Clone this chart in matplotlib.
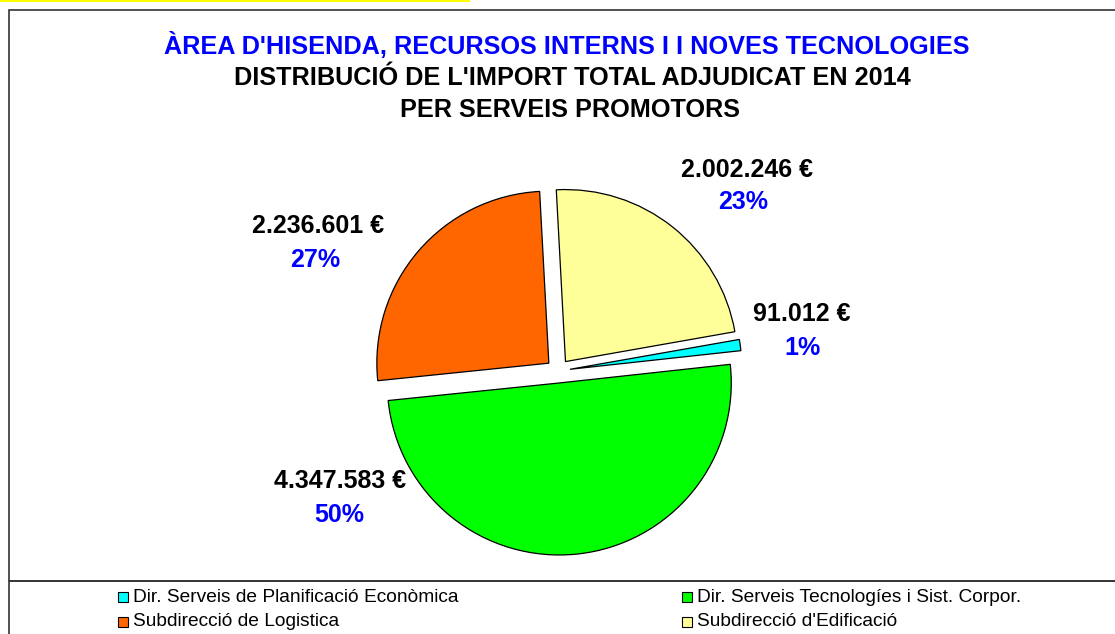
import matplotlib
matplotlib.use("Agg")
from matplotlib import pyplot as plt
from matplotlib.patches import Rectangle

plt.rcParams['font.family'] = ['Liberation Sans', 'DejaVu Sans']

# data
services = ["Dir. Serveis de Planificació Econòmica",
            "Dir. Serveis Tecnologíes i Sist. Corpor.",
            "Subdirecció de Logistica",
            "Subdirecció d'Edificació"]
amounts = [91012, 4347583, 2236601, 2002246]
amount_labels = ["91.012 €", "4.347.583 €", "2.236.601 €", "2.002.246 €"]
pct_labels = ["1%", "50%", "27%", "23%"]
colors = ["#00FFFF", "#00FF00", "#FF6600", "#FFFF99"]

W, H = 1115, 634
fig = plt.figure(figsize=(W / 100, H / 100), dpi=100)

def fx(px):
    return px / W

def fy(py):
    return 1 - py / H

# frame lines
fig.patches.append(Rectangle((0, fy(2)), fx(470), 2 / H, transform=fig.transFigure,
                             facecolor="#FFFF00", edgecolor="none"))
fig.patches.append(Rectangle((fx(9), fy(581)), fx(1120), (581 - 10) / H, transform=fig.transFigure,
                             facecolor="none", edgecolor="#333333", lw=1.2))
fig.patches.append(Rectangle((fx(9), fy(640)), fx(1120), (640 - 581) / H, transform=fig.transFigure,
                             facecolor="none", edgecolor="#333333", lw=1.2))

# titles
fig.text(fx(567), fy(45), "ÀREA D'HISENDA, RECURSOS INTERNS I I NOVES TECNOLOGIES", color="#0000FF",
         fontsize=18.2, fontweight="bold", ha="center", va="center")
fig.text(fx(572), fy(78), "DISTRIBUCIÓ DE L'IMPORT TOTAL ADJUDICAT EN 2014", color="black",
         fontsize=18.2, fontweight="bold", ha="center", va="center")
fig.text(fx(570), fy(110), "PER SERVEIS PROMOTORS", color="black",
         fontsize=18.2, fontweight="bold", ha="center", va="center")

# pie: center (558, 371), radius 172 px
r = 172
half = 200
ax = fig.add_axes([fx(558 - half), fy(371 + half), 2 * half / W, 2 * half / H])
lim = half / r
ax.pie(amounts, colors=colors, startangle=10, counterclock=False,
       explode=[0.07] * 4, radius=1, frame=True,
       wedgeprops=dict(edgecolor="black", linewidth=0.9))
ax.set_xlim(-lim, lim)
ax.set_ylim(-lim, lim)
ax.axis("off")

# labels
label_pos = [(802, 314, 803, 348), (340, 481, 339, 515), (318, 226, 315, 260), (747, 170, 743, 202)]
for (x1, y1, x2, y2), a, p in zip(label_pos, amount_labels, pct_labels):
    fig.text(fx(x1), fy(y1), a, fontsize=18, fontweight="bold", color="black", ha="center", va="center")
    fig.text(fx(x2), fy(y2), p, fontsize=18, fontweight="bold", color="#0000FF", ha="center", va="center")

# legend
leg_pos = [(118, 597), (682, 597), (118, 622), (682, 622)]
for (lx, ly), name, c in zip(leg_pos, services, colors):
    fig.patches.append(Rectangle((fx(lx), fy(ly + 5)), 10 / W, 10 / H, transform=fig.transFigure,
                                 facecolor=c, edgecolor="black", lw=0.8))
    fig.text(fx(lx + 15), fy(ly), name, fontsize=13.8, color="black", ha="left", va="center")

fig.savefig("out.png", dpi=100)
